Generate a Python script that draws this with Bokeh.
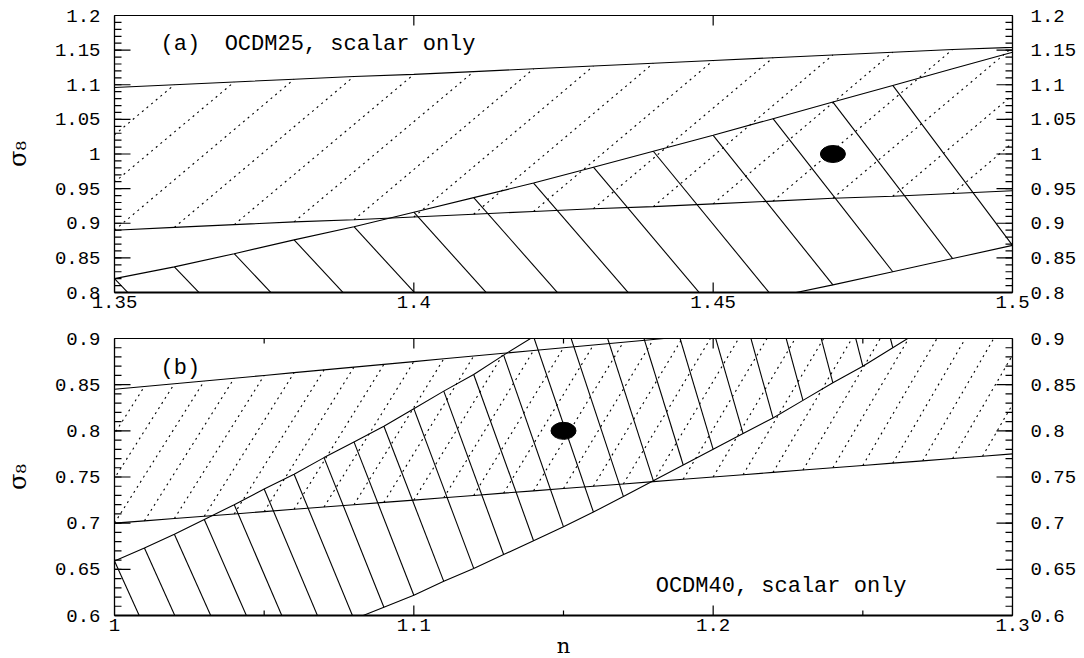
import numpy as np
from bokeh.plotting import figure
from bokeh.models import (ColumnDataSource, LinearAxis, FixedTicker,
                          CustomJSTickFormatter, Label, Range1d)
from bokeh.layouts import column
from bokeh.embed import file_html
from bokeh.resources import INLINE

# ---------------- panel (a): OCDM25 ----------------
# band A (dotted hatching)
n_band_a = [1.32, 1.33, 1.34, 1.35, 1.36, 1.37, 1.38, 1.39, 1.40, 1.41, 1.42,
            1.43, 1.44, 1.45, 1.46, 1.47, 1.48, 1.49, 1.50, 1.51, 1.52, 1.53]
s8_band_a_top = [1.084, 1.088, 1.092, 1.096, 1.100, 1.104, 1.108, 1.112, 1.115, 1.119, 1.123,
                 1.127, 1.131, 1.135, 1.139, 1.143, 1.147, 1.151, 1.154, 1.158, 1.162, 1.166]
s8_band_a_bot = [0.879, 0.883, 0.887, 0.890, 0.894, 0.898, 0.902, 0.905, 0.909, 0.913, 0.917,
                 0.921, 0.924, 0.928, 0.932, 0.936, 0.939, 0.943, 0.947, 0.951, 0.955, 0.958]
# band B (solid hatching)
n_band_b = [1.35, 1.36, 1.37, 1.38, 1.39, 1.40, 1.41, 1.42,
            1.43, 1.44, 1.45, 1.46, 1.47, 1.48, 1.49, 1.50]
s8_band_b_top = [0.820, 0.837, 0.856, 0.876, 0.895, 0.916, 0.937, 0.958,
                 0.981, 1.004, 1.027, 1.051, 1.075, 1.099, 1.123, 1.147]
s8_band_b_bot = [0.606, 0.623, 0.640, 0.657, 0.673, 0.690, 0.707, 0.724,
                 0.741, 0.758, 0.776, 0.793, 0.811, 0.830, 0.849, 0.868]
best_n_a = [1.47]
best_s8_a = [1.00]

# ---------------- panel (b): OCDM40 ----------------
# band C (dotted hatching)
n_band_c = [0.97, 0.98, 0.99, 1.00, 1.01, 1.02, 1.03, 1.04, 1.05, 1.06, 1.07, 1.08, 1.09,
            1.10, 1.11, 1.12, 1.13, 1.14, 1.15, 1.16, 1.17, 1.18, 1.19, 1.20, 1.21,
            1.22, 1.23, 1.24, 1.25, 1.26, 1.27, 1.28, 1.29, 1.30, 1.31, 1.32, 1.33]
s8_band_c_top = [0.836, 0.839, 0.842, 0.845, 0.848, 0.851, 0.854, 0.857, 0.860, 0.863, 0.866,
                 0.869, 0.872, 0.875, 0.878, 0.881, 0.884, 0.887, 0.890, 0.893, 0.896, 0.899,
                 0.902, 0.905, 0.908, 0.911, 0.914, 0.917, 0.920, 0.923, 0.926, 0.929, 0.932,
                 0.935, 0.938, 0.941, 0.944]
s8_band_c_bot = [0.6925, 0.695, 0.6975, 0.700, 0.7025, 0.705, 0.7075, 0.710, 0.7125, 0.715,
                 0.7175, 0.720, 0.7225, 0.725, 0.7275, 0.730, 0.7325, 0.735, 0.7375, 0.740,
                 0.7425, 0.745, 0.7475, 0.750, 0.7525, 0.755, 0.7575, 0.760, 0.7625, 0.765,
                 0.7675, 0.770, 0.7725, 0.775, 0.7775, 0.780, 0.7825]
# band D (solid hatching)
n_band_d = [1.00, 1.01, 1.02, 1.03, 1.04, 1.05, 1.06, 1.07, 1.08, 1.09, 1.10, 1.11, 1.12, 1.13,
            1.14, 1.15, 1.16, 1.17, 1.18, 1.19, 1.20, 1.21, 1.22, 1.23, 1.24, 1.25, 1.26, 1.27]
s8_band_d_top = [0.659, 0.673, 0.688, 0.704, 0.720, 0.737, 0.753, 0.771, 0.788, 0.805, 0.824,
                 0.843, 0.861, 0.882, 0.902, 0.925, 0.948, 0.972, 0.997, 1.022, 1.047, 1.072,
                 1.098, 1.124, 1.150, 1.176, 1.202, 1.228]
s8_band_d_bot = [0.490, 0.503, 0.516, 0.529, 0.543, 0.556, 0.569, 0.583, 0.596, 0.609, 0.622,
                 0.637, 0.651, 0.666, 0.681, 0.696, 0.712, 0.729, 0.746, 0.763, 0.780, 0.797,
                 0.814, 0.833, 0.852, 0.870, 0.890, 0.910]
best_n_b = [1.15]
best_s8_b = [0.80]

# ---------------- ticks ----------------
xa_ticks = [1.35, 1.40, 1.45, 1.50]
xa_labels = ["1.35", "1.4", "1.45", "1.5"]
ya_ticks = [0.80, 0.85, 0.90, 0.95, 1.00, 1.05, 1.10, 1.15, 1.20]
ya_labels = ["0.8", "0.85", "0.9", "0.95", "1", "1.05", "1.1", "1.15", "1.2"]
xb_ticks = [1.0, 1.1, 1.2, 1.3]
xb_minor = [1.05, 1.15, 1.25]
xb_labels = ["1", "1.1", "1.2", "1.3"]
yb_ticks = [0.60, 0.65, 0.70, 0.75, 0.80, 0.85, 0.90]
yb_labels = ["0.6", "0.65", "0.7", "0.75", "0.8", "0.85", "0.9"]

TICK_FONT = "Liberation Mono"
TEXT_FONT = "Liberation Mono"
LABEL_FONT = "DejaVu Serif"
DOTS = "2 4"
FRAME_W, FRAME_H = 898, 277

FMT_CODE = """
let best = 0;
for (let i = 1; i < vals.length; i++) {
  if (Math.abs(vals[i] - tick) < Math.abs(vals[best] - tick)) best = i;
}
return labels[best];
"""


def fmt(vals, labels):
    return CustomJSTickFormatter(args=dict(vals=vals, labels=labels), code=FMT_CODE)


def style_axis(ax):
    ax.major_tick_in = 0
    ax.major_tick_out = 0
    ax.minor_tick_in = 0
    ax.minor_tick_out = 0
    ax.major_tick_line_color = None
    ax.minor_tick_line_color = None
    ax.axis_line_color = "black"
    ax.axis_line_width = 1.3
    ax.major_label_text_font = TICK_FONT
    ax.major_label_text_font_size = "19px"
    ax.major_label_text_color = "black"


def inner_ticks(p, xr, yr, xt, xminor, yt, yminor):
    """Tick marks drawn inward from all four frame edges."""
    dx = (xr[1] - xr[0]) / FRAME_W
    dy = (yr[1] - yr[0]) / FRAME_H
    x0, y0, x1, y1 = [], [], [], []
    for vals, ln in ((xt, 10), (xminor, 5)):
        for v in vals:
            x0 += [v, v]
            x1 += [v, v]
            y0 += [yr[0], yr[1]]
            y1 += [yr[0] + ln * dy, yr[1] - ln * dy]
    for vals, ln in ((yt, 16), (yminor, 7)):
        for v in vals:
            y0 += [v, v]
            y1 += [v, v]
            x0 += [xr[0], xr[1]]
            x1 += [xr[0] + ln * dx, xr[1] - ln * dx]
    src = ColumnDataSource(dict(x0=x0, y0=y0, x1=x1, y1=y1))
    p.segment("x0", "y0", "x1", "y1", source=src, line_color="black", line_width=1.2)


def make_panel(xr, yr, xt, xl, xminor, yt, yl, yminor, height, top_b, bot_b):
    p = figure(frame_width=FRAME_W, frame_height=FRAME_H, height=height, width=1084,
               x_range=Range1d(*xr), y_range=Range1d(*yr),
               output_backend="svg", toolbar_location=None,
               min_border_left=112, min_border_right=74,
               min_border_top=top_b, min_border_bottom=bot_b,
               background_fill_color="white", border_fill_color="white")
    p.grid.visible = False
    p.outline_line_color = "black"
    p.outline_line_width = 1

    xtick = FixedTicker(ticks=xt, minor_ticks=xminor)
    ytick = FixedTicker(ticks=yt, minor_ticks=yminor)

    bx = p.below[0]
    bx.ticker = xtick
    bx.formatter = fmt(xt, xl)
    style_axis(bx)
    bx.axis_line_width = 2
    bx.major_label_standoff = 3

    ly = p.left[0]
    ly.ticker = ytick
    ly.formatter = fmt(yt, yl)
    style_axis(ly)
    ly.major_label_standoff = 14
    ly.axis_label = "σ₈"
    ly.axis_label_text_font = LABEL_FONT
    ly.axis_label_text_font_style = "normal"
    ly.axis_label_text_font_size = "24px"
    ly.axis_label_text_color = "black"
    ly.axis_label_standoff = 20

    ry = LinearAxis(ticker=ytick, formatter=fmt(yt, yl))
    style_axis(ry)
    ry.major_label_standoff = 18
    p.add_layout(ry, "right")

    inner_ticks(p, xr, yr, xt, xminor, yt, yminor)
    return p, bx


def hatch_lines(p, n, src, dst, shift, dash):
    """Join point i of one edge to point i+shift of the other edge."""
    k = len(n) - shift
    src_ds = ColumnDataSource(dict(x0=n[:k], y0=src[:k],
                                   x1=n[shift:shift + k], y1=dst[shift:shift + k]))
    p.segment("x0", "y0", "x1", "y1", source=src_ds, line_color="black",
              line_width=1.1, line_dash=dash)


def edge(p, n, s8):
    p.line(n, s8, line_color="black", line_width=1.1)


ya_minor = [round(v, 2) for v in np.arange(0.80, 1.2001, 0.01)]
yb_minor = [round(v, 2) for v in np.arange(0.60, 0.9001, 0.01)]

# ---------- top panel ----------
pa, _ = make_panel((1.35, 1.5), (0.8, 1.2), xa_ticks, xa_labels, [],
                   ya_ticks, ya_labels, ya_minor, 322, 15, 30)
hatch_lines(pa, n_band_a, s8_band_a_bot, s8_band_a_top, 3, DOTS)
hatch_lines(pa, n_band_b, s8_band_b_top, s8_band_b_bot, 2, "solid")
edge(pa, n_band_a, s8_band_a_top)
edge(pa, n_band_a, s8_band_a_bot)
edge(pa, n_band_b, s8_band_b_top)
edge(pa, n_band_b, s8_band_b_bot)
pa.ellipse(x=best_n_a, y=best_s8_a, width=25, height=17,
           width_units="screen", height_units="screen",
           fill_color="black", line_color="black")
pa.add_layout(Label(x=1.3577, y=1.158, text="(a)", text_font=TEXT_FONT,
                    text_font_size="22px", text_baseline="middle", text_color="black"))
pa.add_layout(Label(x=1.3684, y=1.158, text="OCDM25, scalar only", text_font=TEXT_FONT,
                    text_font_size="22px", text_baseline="middle", text_color="black"))

# ---------- bottom panel ----------
pb, bxb = make_panel((1.0, 1.3), (0.6, 0.9), xb_ticks, xb_labels, xb_minor,
                     yb_ticks, yb_labels, yb_minor, 336, 16, 43)
bxb.axis_label = "n"
bxb.axis_label_text_font = LABEL_FONT
bxb.axis_label_text_font_style = "normal"
bxb.axis_label_text_font_size = "21px"
bxb.axis_label_text_color = "black"
bxb.axis_label_standoff = 0
hatch_lines(pb, n_band_c, s8_band_c_bot, s8_band_c_top, 3, DOTS)
hatch_lines(pb, n_band_d, s8_band_d_top, s8_band_d_bot, 2, "solid")
edge(pb, n_band_c, s8_band_c_top)
edge(pb, n_band_c, s8_band_c_bot)
edge(pb, n_band_d, s8_band_d_top)
edge(pb, n_band_d, s8_band_d_bot)
pb.ellipse(x=best_n_b, y=best_s8_b, width=25, height=17,
           width_units="screen", height_units="screen",
           fill_color="black", line_color="black")
pb.add_layout(Label(x=1.0154, y=0.868, text="(b)", text_font=TEXT_FONT,
                    text_font_size="22px", text_baseline="middle", text_color="black"))
pb.add_layout(Label(x=1.1808, y=0.631, text="OCDM40, scalar only", text_font=TEXT_FONT,
                    text_font_size="22px", text_baseline="middle", text_color="black"))

layout = column(pa, pb, spacing=0)
open("out.html", "w").write(file_html(layout, INLINE))
